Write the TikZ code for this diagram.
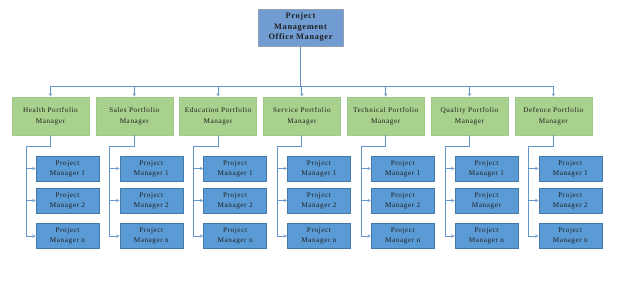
\documentclass[tikz,border=0pt]{standalone}
\usepackage{fontspec}
\setmainfont{Liberation Serif}
\newfontfamily\spacedfont[LetterSpace=8]{Liberation Serif}
\usetikzlibrary{arrows.meta}
\definecolor{topfill}{RGB}{112,156,210}
\definecolor{topdraw}{RGB}{150,160,175}
\definecolor{bluefill}{RGB}{91,155,213}
\definecolor{bluedraw}{RGB}{70,120,170}
\definecolor{greenfill}{RGB}{169,209,142}
\definecolor{greendraw}{RGB}{160,200,135}
\definecolor{linecol}{RGB}{100,150,205}
\definecolor{tipcol}{RGB}{130,165,205}
\definecolor{textcol}{RGB}{30,30,30}
\tikzset{
  topbox/.style={draw=topdraw, line width=0.8pt, fill=topfill, minimum width=85pt, minimum height=37pt, inner sep=1pt, align=center, font=\spacedfont\fontsize{8.3}{10.5}\selectfont\bfseries, text=textcol},
  portbox/.style={draw=greendraw, line width=0.5pt, fill=greenfill, minimum width=77pt, minimum height=38pt, inner sep=1pt, align=center, font=\spacedfont\fontsize{7.2}{10.5}\selectfont, text=textcol},
  pmbox/.style={draw=bluedraw, line width=0.5pt, fill=bluefill, minimum width=63pt, minimum height=25pt, inner sep=1pt, align=center, font=\spacedfont\fontsize{7.2}{10}\selectfont, text=textcol},
  conn/.style={draw=linecol, line width=0.9pt},
  arr/.style={conn, -{Stealth[length=3.5pt,width=3.5pt,color=tipcol]}},
}
\begin{document}
\begin{tikzpicture}[x=1pt,y=-1pt]
\useasboundingbox (0,0) rectangle (624,281);
\node[topbox] (top) at (300.5,27.5) {Project\\Management\\Office Manager};
\coordinate (bus) at (300.5,86);
\foreach \i/\name/\mid in {1/Health/2,2/Sales/2,3/Education/2,4/Service/2,5/Technical/2,6/Quality/,7/Defence/2}{
  \pgfmathsetmacro{\L}{12+(\i-1)*83.8}
  \node[portbox] (g\i) at ({\L+38.5},116) {\name{} Portfolio\\Manager};
  \node[pmbox] (p\i a) at ({\L+24+31.5},168.5) {Project\\Manager 1};
  \node[pmbox] (p\i b) at ({\L+24+31.5},200.5) {Project\\Manager \mid};
  \node[pmbox] (p\i c) at ({\L+24+31.5},236) {Project\\Manager n};
  \coordinate (c\i) at ({\L+14},146);
  \draw[arr] (bus) -| (g\i.north);
  \draw[conn] (g\i.south) |- (c\i);
  \draw[arr] (c\i) |- (p\i a.west);
  \draw[arr] (c\i) |- (p\i b.west);
  \draw[arr] (c\i) |- (p\i c.west);
}
\draw[conn, line width=1.6pt] (top.south) -- (bus);
\end{tikzpicture}
\end{document}
